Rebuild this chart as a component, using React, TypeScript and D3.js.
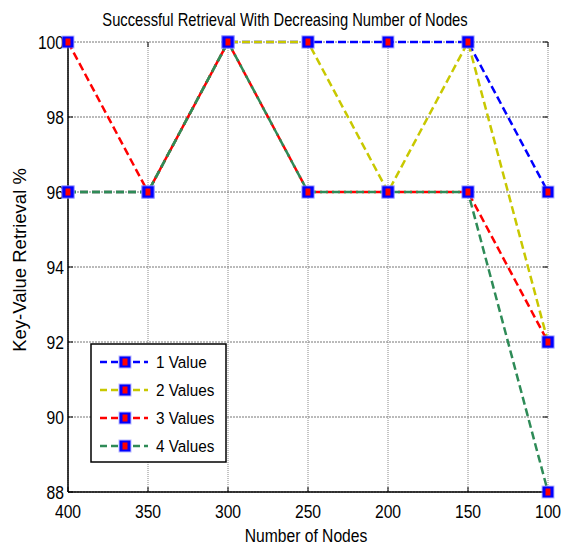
import React from "react";
import * as d3 from "d3";

const nodes = [400, 350, 300, 250, 200, 150, 100];
const seriesNames = ["1 Value", "2 Values", "3 Values", "4 Values"];
const seriesColors = ["#0000ff", "#c8c800", "#ff0000", "#2e8b57"];
const v1 = [96, 96, 100, 100, 100, 100, 96];
const v2 = [96, 96, 100, 100, 96, 100, 92];
const v3 = [100, 96, 100, 96, 96, 96, 92];
const v4 = [96, 96, 100, 96, 96, 96, 88];
const yTicks = [88, 90, 92, 94, 96, 98, 100];
const xTicks = [400, 350, 300, 250, 200, 150, 100];

const font = "Liberation Sans, Arial, sans-serif";

function Txt({ x, y, children, size = 18, sx = 0.87, anchor = "start", rotate = 0 }:
  { x: number; y: number; children: React.ReactNode; size?: number; sx?: number; anchor?: string; rotate?: number }) {
  return (
    <text transform={`translate(${x},${y}) rotate(${rotate}) scale(${sx},1)`} textAnchor={anchor as any}
      fontSize={size} fontFamily={font} fill="#000">{children}</text>
  );
}

export default function App() {
  const W = 564, H = 546;
  const L = 68, R = 548, T = 42, B = 492;
  const x = d3.scaleLinear().domain([400, 100]).range([L, R]);
  const y = d3.scaleLinear().domain([88, 100]).range([B, T]);
  const data = [v1, v2, v3, v4];
  const line = d3.line<[number, number]>().x(d => x(d[0])).y(d => y(d[1]));
  const Marker = ({ cx, cy }: { cx: number; cy: number }) => (
    <g>
      <rect x={cx - 6.5} y={cy - 6.5} width={13} height={13} fill="#8080ff" opacity={0.55} />
      <rect x={cx - 5.5} y={cy - 5.5} width={11} height={11} fill="#0000ff" />
      <rect x={cx - 2.5} y={cy - 3.5} width={5} height={7} fill="#ff0000" />
    </g>
  );
  return (
    <svg width={W} height={H} style={{ position: "absolute", left: 0, top: 0, background: "#fff" }}>
      <rect width={W} height={H} fill="#fff" />
      {xTicks.map(t => (
        <line key={"gx" + t} x1={x(t)} x2={x(t)} y1={T} y2={B} stroke="#888" strokeWidth={1} strokeDasharray="1,1" />
      ))}
      {yTicks.map(t => (
        <line key={"gy" + t} x1={L} x2={R} y1={y(t)} y2={y(t)} stroke="#777" strokeWidth={1} strokeDasharray="2,1" />
      ))}
      <line x1={L} x2={L} y1={T} y2={B} stroke="#000" strokeWidth={1.5} />
      <line x1={L} x2={R} y1={B} y2={B} stroke="#000" strokeWidth={1.5} />
      {xTicks.map(t => (
        <g key={"xt" + t}>
          <line x1={x(t)} x2={x(t)} y1={B} y2={B - 5} stroke="#000" />
          <line x1={x(t)} x2={x(t)} y1={T} y2={T + 5} stroke="#000" />
          <Txt x={x(t)} y={518} anchor="middle">{t}</Txt>
        </g>
      ))}
      {yTicks.map(t => (
        <g key={"yt" + t}>
          <line x1={L} x2={L + 5} y1={y(t)} y2={y(t)} stroke="#000" />
          <line x1={R} x2={R - 5} y1={y(t)} y2={y(t)} stroke="#000" />
          <Txt x={L - 4} y={y(t) + 6.5} anchor="end">{t}</Txt>
        </g>
      ))}
      {data.map((vals, i) => (
        <path key={"s" + i} d={line(nodes.map((n, j) => [n, vals[j]] as [number, number])) || ""}
          fill="none" stroke={seriesColors[i]} strokeWidth={2.5} strokeDasharray="8,4" />
      ))}
      {data.map((vals, i) => (
        <g key={"m" + i}>
          {nodes.map((n, j) => <Marker key={j} cx={x(n)} cy={y(vals[j])} />)}
        </g>
      ))}
      <Txt x={285} y={26} anchor="middle" sx={0.82}>Successful Retrieval With Decreasing Number of Nodes</Txt>
      <Txt x={306} y={542} anchor="middle">Number of Nodes</Txt>
      <Txt x={26} y={260} anchor="middle" rotate={-90} size={18.5} sx={1}>Key-Value Retrieval %</Txt>
      <rect x={91} y={344} width={135} height={118} fill="#fff" stroke="#000" strokeWidth={1.5} />
      {seriesNames.map((name, i) => {
        const ly = 362 + i * 28;
        return (
          <g key={"l" + i}>
            <line x1={100} x2={148} y1={ly} y2={ly} stroke={seriesColors[i]} strokeWidth={2.5} strokeDasharray="7,4" />
            <Marker cx={125} cy={ly} />
            <Txt x={156} y={ly + 6} size={17} sx={0.9}>{name}</Txt>
          </g>
        );
      })}
    </svg>
  );
}
